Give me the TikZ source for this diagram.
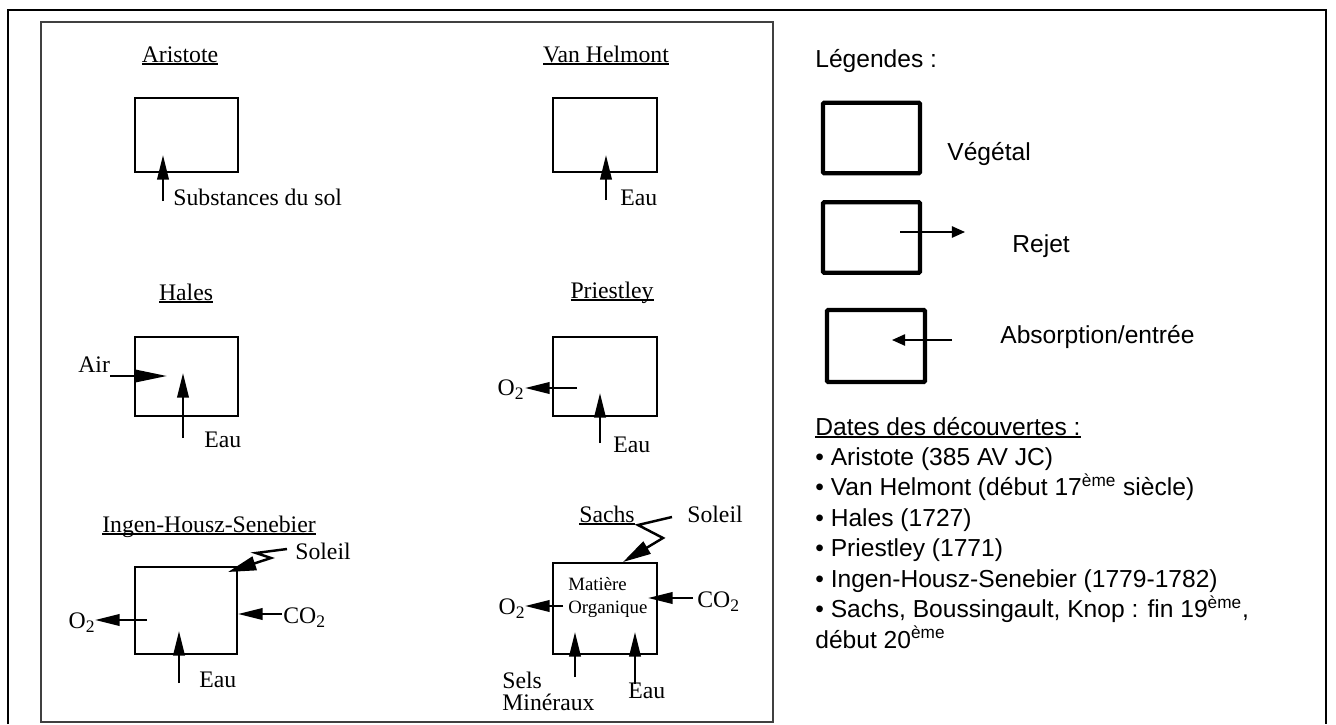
\documentclass[tikz,border=0pt]{standalone}
\usepackage{fontspec}
\setmainfont{Liberation Serif}
\newfontfamily\legfont{Liberation Sans}
\usetikzlibrary{arrows.meta}

% soulignement au ras de la ligne de base
\newcommand\souligne[1]{\setbox0\hbox{#1}\rlap{\rule[-1.6pt]{\wd0}{0.9pt}}\box0}
\newcommand\indice[1]{\raisebox{-0.45ex}{\fontsize{10}{10}\selectfont #1}}

\tikzset{
  plante/.style={draw, line width=1.6pt, minimum width=2.06cm, minimum height=1.48cm, inner sep=0pt},
  legbox/.style={draw, line width=2.4pt, rounded corners=0.6pt, minimum width=1.94cm, minimum height=1.41cm, inner sep=0pt},
  fleche/.style={line width=1.4pt, -{Triangle[length=14pt,width=6.5pt]}},
  eclair/.style={line width=1.4pt, line join=miter, -{Triangle[length=16pt,width=8pt]}},
  legfleche/.style={line width=0.9pt, -{Triangle[length=7.5pt,width=6.5pt]}},
  titre/.style={anchor=base, inner sep=0pt, font=\fontsize{13.5}{16}\selectfont},
  lbl/.style={anchor=base west, inner sep=0pt, font=\fontsize{13.5}{16}\selectfont},
  petit/.style={anchor=base west, inner sep=0pt, font=\fontsize{10.7}{13}\selectfont},
  legtxt/.style={anchor=base west, inner sep=0pt, font=\legfont\fontsize{14}{17}\selectfont},
}

\begin{document}
\begin{tikzpicture}[x=0.02cm, y=-0.02cm]
  \useasboundingbox (0,0) rectangle (1336,724);
  % cadres
  \draw [line width=1.1pt] (8,724) -- (8,10) -- (1326,10) -- (1326,724);
  \draw [line width=1.4pt, black!75] (41,22) rectangle (773,722);

  % Aristote
  \node [titre] (tAri) at (180,62) {\souligne{Aristote}};
  \node [plante] (ari) at (186.5,135) {};
  \coordinate (ariA) at (163,201);
  \coordinate (ariB) at (163,155);
  \draw [fleche] (ariA) -- (ariB);
  \node [lbl] (ariSol) at (173,205) {Substances du sol};

  % Van Helmont
  \node [titre] (tVH) at (606,62) {\souligne{Van Helmont}};
  \node [plante, minimum width=2.08cm] (vh) at (605,135) {};
  \coordinate (vhA) at (606,200);
  \coordinate (vhB) at (606,155);
  \draw [fleche] (vhA) -- (vhB);
  \node [lbl] (vhEau) at (620,205) {Eau};

  % Hales
  \node [titre] (tHal) at (186,300) {\souligne{Hales}};
  \node [plante, minimum height=1.58cm] (hal) at (186.5,376.5) {};
  \coordinate (halAirA) at (110,376);
  \coordinate (halAirB) at (167,376);
  \draw [fleche, -{Triangle[length=18pt,width=7pt]}] (halAirA) -- (halAirB);
  \node [lbl] (halAir) at (78,372) {Air};
  \coordinate (halEauA) at (183,438);
  \coordinate (halEauB) at (183,373);
  \draw [fleche] (halEauA) -- (halEauB);
  \node [lbl] (halEau) at (204,447) {Eau};

  % Priestley
  \node [titre] (tPri) at (612,298) {\souligne{Priestley}};
  \node [plante, minimum width=2.08cm, minimum height=1.58cm] (pri) at (605,376.5) {};
  \coordinate (priOA) at (577,388);
  \coordinate (priOB) at (525,388);
  \draw [fleche] (priOA) -- (priOB);
  \node [titre, anchor=base east] (priO) at (524,395) {O\indice{2}};
  \coordinate (priEauA) at (600,443);
  \coordinate (priEauB) at (600,393);
  \draw [fleche] (priEauA) -- (priEauB);
  \node [lbl] (priEau) at (613,452) {Eau};

  % Ingen-Housz-Senebier
  \node [titre] (tIng) at (209,532) {\souligne{Ingen-Housz-Senebier}};
  \node [plante, minimum width=2.04cm, minimum height=1.74cm] (ing) at (186,610.5) {};
  \coordinate (ingSolA) at (287,549);
  \coordinate (ingSolB) at (256,553);
  \coordinate (ingSolC) at (271,558);
  \coordinate (ingSolD) at (228,572);
  \draw [eclair] (ingSolA) -- (ingSolB) -- (ingSolC) -- (ingSolD);
  \node [lbl] (ingSol) at (295,559) {Soleil};
  \coordinate (ingOA) at (147,620);
  \coordinate (ingOB) at (95,620);
  \draw [fleche] (ingOA) -- (ingOB);
  \node [titre, anchor=base east] (ingO) at (95,628) {O\indice{2}};
  \coordinate (ingCA) at (282,614);
  \coordinate (ingCB) at (238,614);
  \draw [fleche] (ingCA) -- (ingCB);
  \node [lbl] (ingC) at (283,623) {CO\indice{2}};
  \coordinate (ingEauA) at (179,683);
  \coordinate (ingEauB) at (179,631);
  \draw [fleche] (ingEauA) -- (ingEauB);
  \node [lbl] (ingEau) at (199,687) {Eau};

  % Sachs
  \node [titre] (tSac) at (607,522) {\souligne{Sachs}};
  \node [plante, minimum width=2.08cm, minimum height=1.82cm] (sac) at (605,608.5) {};
  \node [petit] (sacMat) at (568,590) {Matière};
  \node [petit] (sacOrg) at (568,613) {Organique};
  \coordinate (sacSolA) at (672,517);
  \coordinate (sacSolB) at (638,525);
  \coordinate (sacSolC) at (663,538);
  \coordinate (sacSolD) at (623,562);
  \draw [eclair] (sacSolA) -- (sacSolB) -- (sacSolC) -- (sacSolD);
  \node [lbl] (sacSol) at (687,522) {Soleil};
  \coordinate (sacOA) at (563,606);
  \coordinate (sacOB) at (525,606);
  \draw [fleche] (sacOA) -- (sacOB);
  \node [titre, anchor=base east] (sacO) at (525,614) {O\indice{2}};
  \coordinate (sacCA) at (693,598);
  \coordinate (sacCB) at (648,598);
  \draw [fleche] (sacCA) -- (sacCB);
  \node [lbl] (sacC) at (697,607) {CO\indice{2}};
  \coordinate (sacSelA) at (575,677);
  \coordinate (sacSelB) at (575,632);
  \draw [fleche] (sacSelA) -- (sacSelB);
  \coordinate (sacEauA) at (635,684);
  \coordinate (sacEauB) at (635,632);
  \draw [fleche] (sacEauA) -- (sacEauB);
  \node [lbl] (sacSel) at (502,688) {Sels};
  \node [lbl] (sacMin) at (502,710) {Minéraux};
  \node [lbl] (sacEau) at (628,698) {Eau};

  % legendes
  \node [legtxt] (leg) at (815,67) {Légendes :};
  \node [legbox] (legVeg) at (871.5,138) {};
  \node [legtxt] (vegTxt) at (947,160) {Végétal};
  \node [legbox] (legRej) at (871.5,237.5) {};
  \coordinate (rejA) at (900,232);
  \coordinate (rejB) at (965,232);
  \draw [legfleche] (rejA) -- (rejB);
  \node [legtxt] (rejTxt) at (1012,252) {Rejet};
  \node [legbox, minimum width=1.96cm, minimum height=1.44cm] (legAbs) at (876,346) {};
  \coordinate (absA) at (952,340);
  \coordinate (absB) at (892,340);
  \draw [legfleche] (absA) -- (absB);
  \node [legtxt] (absTxt) at (1000,343) {Absorption/entrée};

  % dates
  \node [legtxt] (dates) at (815,435) {\souligne{Dates des découvertes :}};
  \foreach \txt [count=\i] in {{• Aristote (385 AV JC)},
      {• Van Helmont (début 17\textsuperscript{ème} siècle)},
      {• Hales (1727)},
      {• Priestley (1771)},
      {• Ingen-Housz-Senebier (1779-1782)},
      {• Sachs, Boussingault, Knop : fin 19\textsuperscript{ème},},
      {début 20\textsuperscript{ème}}}
    \node [legtxt] (date\i) at (815,434.5+30.5*\i) {\txt};
\end{tikzpicture}
\end{document}
